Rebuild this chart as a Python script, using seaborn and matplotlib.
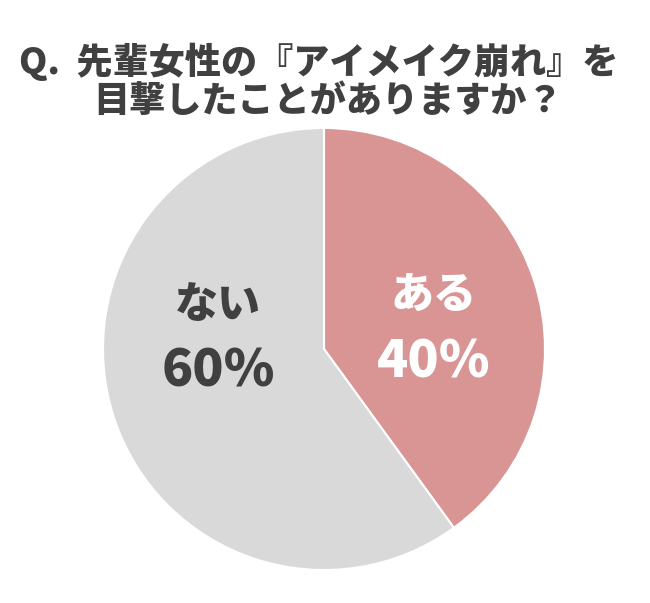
import matplotlib
matplotlib.use("Agg")
import matplotlib.pyplot as plt
import seaborn as sns

sns.set_theme(style="white")
plt.rcParams['font.family'] = ['Noto Sans CJK JP', 'DejaVu Sans']

# data
answers = ["ある", "ない"]
shares = [40, 60]
colors = ["#D99594", "#D9D9D9"]
text_colors = ["white", "#404040"]
title_lines = ["Q.  先輩女性の『アイメイク崩れ』を", "目撃したことがありますか？"]

fig = plt.figure(figsize=(6.5, 6.03), dpi=100)
ax = fig.add_axes([103 / 650, 33 / 603, 442 / 650, 442 / 603])

wedges, _ = ax.pie(
    shares,
    colors=colors,
    startangle=90,
    counterclock=False,
    radius=1.0,
    wedgeprops={"edgecolor": "white", "linewidth": 1.5},
)
ax.set_xlim(-1, 1)
ax.set_ylim(-1, 1)
ax.set_aspect("equal")
ax.axis("off")

# label positions (in pie radius units)
label_pos = [(0.495, 0.09), (-0.48, 0.05)]
for name, val, tc, (lx, ly) in zip(answers, shares, text_colors, label_pos):
    ax.text(lx, ly + 0.15, name, ha="center", va="center",
            fontsize=31, fontweight="heavy", color=tc)
    ax.text(lx, ly - 0.15, f"{val}%", ha="center", va="center",
            fontsize=37, fontweight="heavy", color=tc)

fig.text(0.49, 1 - 62 / 603, title_lines[0], ha="center", va="center",
         fontsize=26, fontweight="heavy", color="#404040")
fig.text(0.505, 1 - 101 / 603, title_lines[1], ha="center", va="center",
         fontsize=26, fontweight="heavy", color="#404040")

fig.savefig("out.png", dpi=100, facecolor="white")
